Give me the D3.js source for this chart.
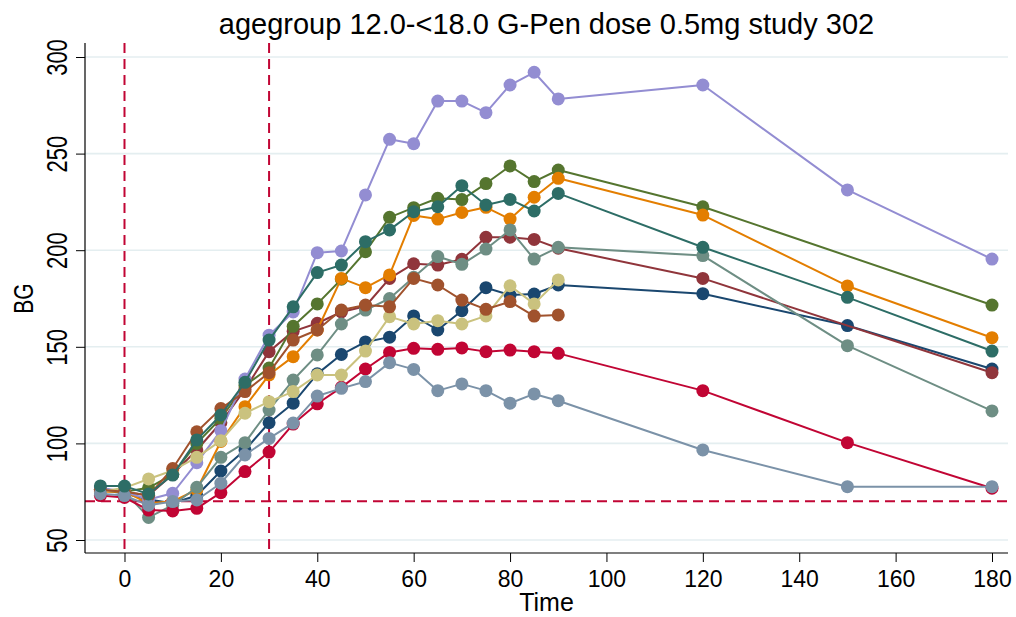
<!DOCTYPE html>
<html>
<head>
<meta charset="utf-8">
<script src="https://cdn.jsdelivr.net/npm/d3@7"></script>
<style>
  html, body { margin: 0; padding: 0; background: #ffffff; }
  svg { display: block; font-family: "Liberation Sans", Arial, sans-serif; }
</style>
</head>
<body>
<svg id="chart" width="1016" height="617"></svg>
<script>
// Sampling times (minutes) shared by all subjects
const times = [-5, 0, 5, 10, 15, 20, 25, 30, 35, 40, 45, 50, 55, 60, 65, 70, 75, 80, 85, 90, 120, 150, 180];

// Blood glucose per subject at each time (null = not measured)
const bgNavy     = [76, 74, 71, 69, 73, 85.7, 96.6, 110.7, 120.8, 136, 146, 152.5, 155, 166, 158.7, 168.7, 180.6, 176.8, 177.3, 182, 177.5, 161, 138.5];
const bgMaroon   = [76, 75, 73, 84, 96.6, 110.7, 128, 147.5, 158, 162.2, 168, 171, 185.4, 193, 192.3, 195.3, 206.7, 206.7, 205.6, 201, 185.4, null, 136.6];
const bgForest   = [76, 75, 77, 84, 100, 113, 130, 139, 160.6, 172.2, 185, 199.2, 217, 222, 226.9, 226.2, 234.5, 243.6, 235.5, 241.5, 222.5, null, 171.6];
const bgOrange   = [75, 75, 69, 70, 76, 101, 119, 135.5, 144.9, 158.7, 185.4, 180.6, 187.2, 218, 216.1, 219.5, 222.2, 216.1, 227.4, 237.2, 218.2, 181.5, 154.7];
const bgTeal     = [76, 75, 61.7, 68, 77.3, 92.8, 100.4, 117.3, 132.8, 145.8, 161.8, 169, 175, 186, 196.7, 192.7, 200.6, 210.5, 195.4, 201.5, 197.2, 150.6, 116.8];
const bgCranb    = [73, 72, 65.5, 65, 66.4, 74.5, 85.4, 95.5, 110, 120.5, 129, 138.5, 147.1, 149.2, 148.7, 149.4, 147.5, 148.3, 147.5, 146.6, 127.3, 100.4, 76.8];
const bgLavender = [77, 75, 71, 74.2, 90, 106.6, 133.3, 156, 168, 198.7, 199.6, 228.6, 257.4, 255.1, 277.2, 277.2, 271.2, 285.5, 292.1, 278.3, 285.5, 231.2, 195.4];
const bgKhaki    = [75, 77, 81.6, 86, 92.8, 101.4, 115.6, 121.6, 126.8, 135.4, 135.4, 147.8, 165.6, 161.8, 163.5, 161.8, 166, 181.6, 172.2, 184.6, null, null, null];
const bgSienna   = [76, 75, 73, 87, 106, 118, 126.8, 136.6, 153.5, 158.7, 169, 171.6, 170.7, 185.4, 182, 174.2, 169.4, 173.4, 165.9, 166.5, null, null, null];
const bgEmidblue = [74, 73, 68, 69.9, 70.7, 79.4, 94, 102.6, 110.5, 124.5, 128.5, 132, 141.8, 138.3, 127.3, 130.8, 127.3, 120.8, 125.6, 122.1, 96.6, 77.6, 77.6];
const bgEmerald  = [78, 77.9, 73.8, 83.6, 101.8, 114.7, 131.6, 153.5, 170.7, 188.4, 192.3, 204.4, 210.5, 219.9, 222.5, 233.4, 223.4, 226.3, 220.3, 229.4, 201.5, 175.6, 147.8];

const seriesValues = [bgNavy, bgMaroon, bgForest, bgOrange, bgTeal, bgCranb, bgLavender, bgKhaki, bgSienna, bgEmidblue, bgEmerald];
const seriesColors = ["#1a476f", "#90353b", "#55752f", "#e37e00", "#6e8e84", "#c10534", "#938dd2", "#cac27e", "#a0522d", "#7b92a8", "#2d6d66"];

// Axis ticks and reference lines
const xTicks = [0, 20, 40, 60, 80, 100, 120, 140, 160, 180];
const yTicks = [50, 100, 150, 200, 250, 300];
const refTimes = [0, 30];
const refBG = [70];

const titleText = "agegroup 12.0-<18.0 G-Pen dose 0.5mg study 302";
const xTitle = "Time";
const yTitle = "BG";

// Layout
const plot = { left: 85, right: 1008, top: 43, bottom: 553 };
const svg = d3.select("#chart");

const x = d3.scaleLinear().domain([-5, 180]).range([100.4, 992]);
const y = d3.scaleLinear().domain([50, 300]).range([540, 57]);

const refColor = "#c10534";
// Rotated labels are drawn with taller glyphs than horizontal ones
const rotStretch = 1.35;

// Horizontal grid lines
svg.append("g").selectAll("line").data(yTicks).join("line")
  .attr("x1", plot.left).attr("x2", plot.right)
  .attr("y1", d => y(d)).attr("y2", d => y(d))
  .attr("stroke", "#e4eef0").attr("stroke-width", 1.6);

// Dashed reference lines
svg.append("g").selectAll("line").data(refTimes).join("line")
  .attr("x1", d => x(d)).attr("x2", d => x(d))
  .attr("y1", plot.top).attr("y2", plot.bottom)
  .attr("stroke", refColor).attr("stroke-width", 2)
  .attr("stroke-dasharray", "10,6");
svg.append("g").selectAll("line").data(refBG).join("line")
  .attr("x1", plot.left).attr("x2", plot.right)
  .attr("y1", d => y(d)).attr("y2", d => y(d))
  .attr("stroke", refColor).attr("stroke-width", 2)
  .attr("stroke-dasharray", "10,6");

// Subject curves: connected lines with solid circle markers
const line = d3.line().x(d => x(d.t)).y(d => y(d.v));
const lines = svg.append("g");
seriesValues.forEach((vals, i) => {
  const pts = times.map((t, j) => ({ t, v: vals[j] })).filter(d => d.v !== null);
  const g = lines.append("g");
  g.append("path").datum(pts)
    .attr("d", line)
    .attr("fill", "none")
    .attr("stroke", seriesColors[i])
    .attr("stroke-width", 2)
    .attr("stroke-linejoin", "round");
  g.selectAll("circle").data(pts).join("circle")
    .attr("cx", d => x(d.t)).attr("cy", d => y(d.v))
    .attr("r", 6.5)
    .attr("fill", seriesColors[i]);
});

// Axes
const xAxis = svg.append("g")
  .attr("transform", `translate(0,${plot.bottom})`)
  .call(d3.axisBottom(x).tickValues(xTicks).tickSize(9).tickPadding(9).tickSizeOuter(0));
xAxis.select(".domain").remove();
xAxis.selectAll(".tick line").attr("stroke", "#000").attr("stroke-width", 1);
xAxis.selectAll(".tick text").attr("font-size", 23).attr("fill", "#000")
  .attr("font-family", "Liberation Sans, Arial, sans-serif");

const yAxis = svg.append("g")
  .attr("transform", `translate(${plot.left},0)`)
  .call(d3.axisLeft(y).tickValues(yTicks).tickSize(9).tickSizeOuter(0));
yAxis.select(".domain").remove();
yAxis.selectAll(".tick line").attr("stroke", "#000").attr("stroke-width", 1);
yAxis.selectAll(".tick text")
  .attr("font-size", 22).attr("fill", "#000")
  .attr("font-family", "Liberation Sans, Arial, sans-serif")
  .attr("text-anchor", "middle")
  .attr("transform", `rotate(-90) scale(1,${rotStretch})`)
  .attr("x", 0).attr("y", -18 / rotStretch).attr("dy", 0);

// Axis lines
svg.append("line")
  .attr("x1", plot.left).attr("x2", plot.left)
  .attr("y1", plot.top).attr("y2", plot.bottom)
  .attr("stroke", "#000").attr("stroke-width", 1.2);
svg.append("line")
  .attr("x1", plot.left).attr("x2", plot.right)
  .attr("y1", plot.bottom).attr("y2", plot.bottom)
  .attr("stroke", "#000").attr("stroke-width", 1.2);

// Titles
svg.append("text")
  .attr("x", (plot.left + plot.right) / 2).attr("y", 34)
  .attr("text-anchor", "middle").attr("font-size", 29).attr("fill", "#000")
  .text(titleText);
svg.append("text")
  .attr("x", (plot.left + plot.right) / 2).attr("y", 611)
  .attr("text-anchor", "middle").attr("font-size", 25).attr("fill", "#000")
  .text(xTitle);
svg.append("text")
  .attr("transform", `translate(33,${y(175)}) rotate(-90) scale(1,${rotStretch})`)
  .attr("text-anchor", "middle").attr("font-size", 21).attr("fill", "#000")
  .text(yTitle);
</script>
</body>
</html>
